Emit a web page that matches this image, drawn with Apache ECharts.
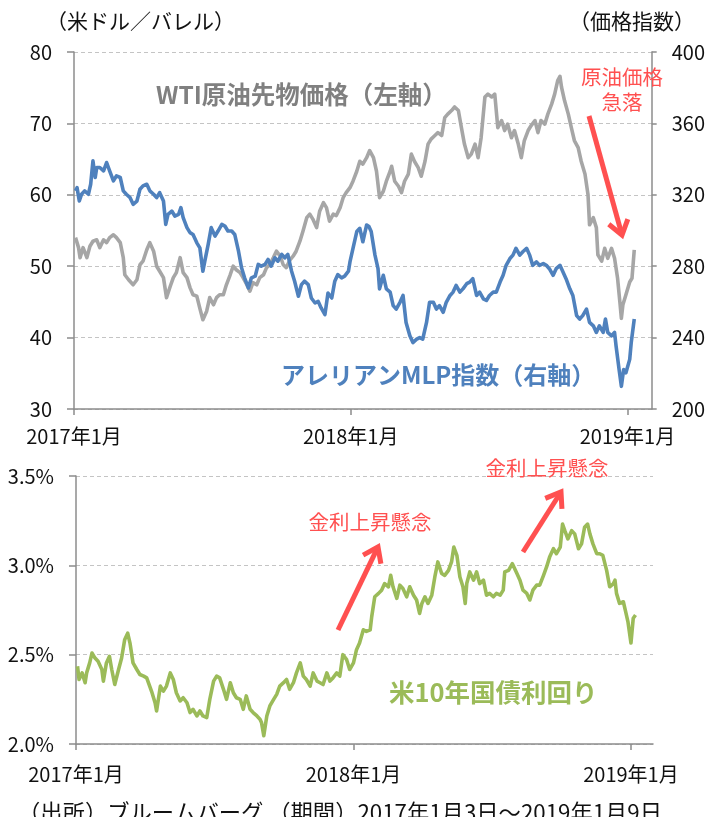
<!DOCTYPE html>
<html>
<head>
<meta charset="utf-8">
<script src="https://cdn.jsdelivr.net/npm/echarts@6/dist/echarts.min.js"></script>
<style>
html,body{margin:0;padding:0;background:#fff;}
#main{width:708px;height:817px;}
</style>
</head>
<body>
<div id="main"></div>
<script>
// x values are days counted from 2017-01-01
const tickDays = [0, 365, 730];
const tickLabels = ['2017年1月', '2018年1月', '2019年1月'];

// WTI crude futures, USD/bbl (left axis)
const wti = [
  [2,54.0],[6,52.6],[8,51.2],[12,52.6],[17,51.2],[21,52.8],[25,53.5],[30,53.7],[34,52.6],[39,53.7],
  [43,53.3],[47,54.0],[52,54.4],[56,54.0],[61,53.3],[65,51.2],[67,48.8],[72,48.1],[78,47.4],[83,48.1],
  [87,50.2],[91,50.7],[96,52.3],[100,53.3],[105,52.1],[109,50.0],[113,49.3],[118,48.4],[122,45.6],[127,47.2],
  [131,48.4],[135,49.1],[140,51.2],[144,49.1],[149,48.4],[153,47.0],[157,46.0],[162,45.8],[166,44.1],[170,42.5],
  [175,43.7],[179,45.6],[184,44.6],[188,45.6],[192,46.0],[197,46.0],[201,47.4],[206,48.8],[210,50.0],[214,49.5],
  [219,49.1],[223,48.4],[228,47.4],[232,46.5],[236,47.7],[241,47.4],[245,48.4],[250,48.8],[254,49.8],[258,50.2],
  [263,51.2],[267,52.1],[272,51.4],[276,50.2],[280,49.8],[285,50.9],[289,51.4],[293,52.1],[298,53.5],[302,54.9],
  [307,56.8],[311,57.3],[315,56.6],[320,55.4],[324,57.7],[329,58.9],[333,58.2],[337,56.3],[342,57.3],[346,57.1],
  [351,58.2],[355,59.6],[359,60.3],[364,61.0],[368,61.9],[373,63.3],[377,64.7],[381,64.3],[386,65.2],[390,66.2],
  [395,65.2],[399,63.3],[403,59.6],[408,60.5],[412,61.9],[417,63.3],[419,64.0],[423,61.9],[428,61.2],[432,60.3],
  [436,61.9],[441,62.9],[445,65.7],[449,64.7],[454,63.8],[458,62.6],[463,64.7],[467,67.1],[471,67.8],[476,68.3],
  [480,68.7],[485,68.3],[489,70.8],[493,71.3],[498,71.8],[502,72.3],[507,71.8],[511,69.4],[515,67.1],[520,65.2],
  [524,65.7],[529,67.1],[533,65.2],[537,68.0],[542,73.7],[546,74.1],[551,73.7],[555,74.1],[559,69.4],[564,70.4],
  [568,69.0],[572,69.9],[577,68.0],[581,69.0],[586,67.1],[590,65.2],[594,67.6],[599,69.0],[603,69.7],[608,70.4],
  [612,68.7],[616,70.4],[621,69.9],[625,71.3],[630,72.7],[634,74.1],[638,76.0],[641,76.6],[643,75.1],[647,73.2],
  [652,71.3],[656,69.4],[660,67.6],[665,66.6],[669,64.7],[674,62.9],[678,60.0],[680,55.8],[685,56.8],[689,55.4],
  [691,51.6],[696,50.7],[700,52.5],[704,51.1],[709,52.5],[713,51.1],[717,48.3],[720,45.0],[722,42.7],[724,44.6],
  [728,46.0],[733,47.8],[736,48.3],[739,52.3]
];

// Alerian MLP index (right axis)
const mlp = [
  [2,322.2],[4,324.0],[7,316.5],[10,320.3],[14,322.2],[19,320.3],[22,325.9],[25,339.0],[28,329.7],[30,335.3],
  [34,335.3],[39,333.4],[43,338.1],[47,333.4],[52,327.8],[56,330.6],[61,329.7],[65,322.2],[69,320.3],[74,318.4],
  [78,314.7],[83,316.5],[87,323.1],[91,325.0],[96,325.9],[100,322.2],[105,320.3],[109,318.4],[113,321.2],[118,316.5],
  [121,303.4],[124,309.1],[129,310.9],[133,308.1],[138,309.1],[141,312.8],[144,307.2],[149,301.6],[153,298.8],[157,297.8],
  [162,293.1],[166,290.3],[170,277.2],[173,283.8],[177,292.2],[181,301.6],[186,296.9],[190,299.7],[195,303.4],[199,302.5],
  [203,299.7],[208,299.7],[212,297.8],[217,288.4],[221,279.1],[225,273.5],[230,267.8],[234,273.5],[239,274.4],[243,281.0],
  [247,280.0],[252,281.0],[256,283.8],[260,280.0],[265,284.7],[269,282.8],[274,286.6],[278,284.7],[282,286.6],[287,277.2],
  [291,271.6],[296,263.2],[300,269.7],[304,271.6],[309,269.7],[313,262.2],[318,259.4],[322,260.3],[326,256.6],[331,252.9],
  [335,265.0],[340,262.2],[344,271.6],[348,275.3],[353,273.5],[357,274.4],[362,277.2],[364,282.4],[368,290.0],[373,299.4],
  [377,301.2],[381,293.7],[386,303.1],[389,302.2],[392,299.4],[397,286.2],[401,278.6],[403,267.3],[408,274.9],[412,267.3],
  [417,265.5],[421,257.9],[425,256.0],[430,259.8],[434,263.6],[438,248.5],[443,241.0],[447,237.2],[452,239.1],[456,240.0],
  [460,239.1],[465,248.5],[469,259.8],[474,259.8],[478,256.0],[482,257.9],[487,254.2],[491,259.8],[496,263.6],[500,265.5],
  [504,269.2],[509,265.5],[513,267.3],[518,270.2],[522,271.1],[526,273.0],[531,263.6],[535,265.5],[540,261.7],[544,260.8],
  [548,263.6],[553,265.5],[557,265.5],[562,271.1],[566,274.9],[570,280.5],[575,284.3],[579,286.2],[583,290.0],[588,286.2],
  [592,288.1],[597,290.0],[601,286.2],[605,280.5],[610,282.4],[614,280.5],[619,281.5],[623,280.5],[627,278.6],[632,274.9],
  [636,278.6],[641,280.5],[645,276.8],[649,273.0],[654,267.3],[658,263.6],[663,252.3],[667,250.4],[671,252.3],[676,256.0],
  [680,248.5],[685,246.6],[689,242.9],[693,246.6],[698,242.9],[701,250.4],[704,242.9],[709,241.0],[713,242.9],[715,235.3],
  [719,222.1],[722,212.7],[725,222.1],[728,220.3],[733,227.8],[735,237.2],[739,250.4]
];

// US 10-year treasury yield, %
const ust10y = [
  [2,2.435],[4,2.361],[8,2.398],[12,2.343],[14,2.398],[18,2.454],[21,2.509],[25,2.481],[29,2.463],[34,2.417],
  [36,2.352],[40,2.454],[44,2.491],[47,2.417],[51,2.333],[56,2.417],[60,2.481],[64,2.583],[68,2.620],[71,2.565],
  [75,2.454],[80,2.417],[84,2.389],[89,2.380],[93,2.370],[95,2.380],[100,2.287],[104,2.231],[106,2.185],[111,2.324],
  [115,2.296],[119,2.324],[124,2.398],[128,2.361],[132,2.287],[137,2.241],[141,2.259],[146,2.231],[150,2.176],[154,2.194],
  [159,2.157],[163,2.185],[167,2.157],[172,2.148],[176,2.250],[181,2.352],[185,2.380],[189,2.370],[194,2.306],[198,2.250],
  [203,2.343],[207,2.287],[211,2.259],[216,2.250],[220,2.194],[224,2.269],[229,2.194],[233,2.176],[238,2.157],[242,2.139],
  [244,2.120],[247,2.046],[251,2.157],[255,2.213],[260,2.250],[264,2.278],[268,2.324],[273,2.343],[277,2.361],[281,2.306],
  [286,2.343],[290,2.398],[295,2.454],[299,2.380],[303,2.361],[308,2.324],[312,2.398],[317,2.352],[321,2.343],[325,2.333],
  [330,2.398],[334,2.352],[338,2.370],[343,2.398],[347,2.380],[351,2.500],[356,2.472],[360,2.417],[365,2.454],[369,2.528],
  [373,2.565],[378,2.639],[382,2.630],[387,2.639],[389,2.713],[393,2.824],[398,2.843],[402,2.861],[406,2.898],[411,2.880],
  [414,2.944],[417,2.880],[422,2.815],[426,2.889],[430,2.870],[435,2.824],[439,2.880],[444,2.833],[448,2.806],[452,2.731],
  [455,2.787],[459,2.824],[463,2.787],[468,2.833],[472,2.935],[476,3.019],[481,2.954],[485,2.944],[490,2.972],[494,3.019],
  [497,3.102],[501,3.056],[505,2.935],[509,2.880],[512,2.787],[514,2.898],[518,2.963],[523,2.917],[527,2.963],[531,2.898],
  [536,2.917],[540,2.833],[544,2.843],[549,2.824],[553,2.843],[558,2.833],[562,2.861],[564,2.963],[569,2.972],[574,3.009],
  [580,2.954],[584,2.917],[588,2.861],[593,2.843],[597,2.806],[601,2.861],[606,2.889],[610,2.889],[615,2.944],[619,2.991],
  [623,3.046],[628,3.093],[632,3.065],[637,3.102],[640,3.231],[643,3.194],[647,3.148],[652,3.194],[656,3.176],[661,3.093],
  [665,3.120],[669,3.213],[673,3.231],[676,3.176],[680,3.120],[685,3.065],[689,3.065],[693,3.056],[698,2.972],[702,2.880],
  [707,2.898],[709,2.917],[711,2.843],[715,2.787],[720,2.796],[723,2.741],[726,2.685],[730,2.565],[733,2.704],[736,2.722]
];

const FONT = '"Noto Sans CJK JP", "Noto Sans", sans-serif';
const AXIS = '#8c8c8c';
const RED = '#FF5050';

function xAxisFor(grid, max, margin) {
  return {
    type: 'value', gridIndex: grid, min: 0, max: max,
    axisLine: {show: true, lineStyle: {color: AXIS, width: 1.5}},
    axisTick: {show: true, length: 6, customValues: tickDays, lineStyle: {color: AXIS, width: 1.5}},
    axisLabel: {
      customValues: tickDays, margin: margin, fontSize: 20, color: '#111', fontFamily: FONT,
      formatter: v => tickLabels[tickDays.indexOf(v)] || ''
    },
    splitLine: {show: false}
  };
}

function yAxisFor(grid, pos, min, max, step, fmt, split, margin, tick) {
  return {
    type: 'value', gridIndex: grid, position: pos, min: min, max: max, interval: step,
    axisLine: {show: true, lineStyle: {color: AXIS, width: 1.5}},
    axisTick: {show: true, length: tick, lineStyle: {color: AXIS, width: 1.5}},
    axisLabel: {margin: margin, fontSize: 20, color: '#111', fontFamily: FONT, formatter: fmt},
    splitLine: {show: split, lineStyle: {color: '#c4c4c4', type: [4, 3], width: 1}}
  };
}

function txt(text, x, y, size, color, opts) {
  opts = opts || {};
  return {
    type: 'text', x: x, y: y, silent: true, z: 100,
    style: {
      text: text, fontSize: size, fontFamily: FONT, fontWeight: opts.bold ? 'bold' : 'normal',
      fill: color, align: opts.align || 'left', textAlign: opts.align || 'left',
      verticalAlign: 'middle', textVerticalAlign: 'middle', lineHeight: opts.lh || size
    }
  };
}

function arrow(x1, y1, x2, y2) {
  const a = Math.atan2(y2 - y1, x2 - x1);
  const L = 17, w = 0.62;
  const p1 = [x2 - L * Math.cos(a - w), y2 - L * Math.sin(a - w)];
  const p2 = [x2 - L * Math.cos(a + w), y2 - L * Math.sin(a + w)];
  return [
    {type: 'line', silent: true, z: 100,
     shape: {x1: x1, y1: y1, x2: x2 - 3 * Math.cos(a), y2: y2 - 3 * Math.sin(a)},
     style: {stroke: RED, lineWidth: 5}},
    {type: 'polyline', silent: true, z: 100,
     shape: {points: [p1, [x2, y2], p2]},
     style: {stroke: RED, lineWidth: 5, fill: null, lineJoin: 'miter'}}
  ];
}

const chart = echarts.init(document.getElementById('main'), null, {renderer: 'canvas'});

const option = {
  animation: false,
  backgroundColor: '#fff',
  textStyle: {fontFamily: FONT},
  grid: [
    {left: 74, right: 56, top: 52, bottom: 408},
    {left: 76, right: 55, top: 476, bottom: 73}
  ],
  xAxis: [xAxisFor(0, 762, 17), xAxisFor(1, 759, 20)],
  yAxis: [
    yAxisFor(0, 'left', 30, 80, 10, v => v, true, 22, 7),
    yAxisFor(0, 'right', 200, 400, 40, v => v, false, 20, 5),
    yAxisFor(1, 'left', 2, 3.5, 0.5, v => v.toFixed(1) + '%', true, 22, 7)
  ],
  series: [
    {name: 'WTI', type: 'line', xAxisIndex: 0, yAxisIndex: 0, data: wti, showSymbol: false,
     lineStyle: {color: '#A6A6A6', width: 3.6, join: 'round'}, itemStyle: {color: '#A6A6A6'}},
    {name: 'MLP', type: 'line', xAxisIndex: 0, yAxisIndex: 1, data: mlp, showSymbol: false,
     lineStyle: {color: '#4F81BD', width: 3.6, join: 'round'}, itemStyle: {color: '#4F81BD'}},
    {name: 'UST10Y', type: 'line', xAxisIndex: 1, yAxisIndex: 2, data: ust10y, showSymbol: false,
     lineStyle: {color: '#9BBB59', width: 3.6, join: 'round'}, itemStyle: {color: '#9BBB59'}}
  ],
  graphic: [
    txt('（米ドル／バレル）', 46, 21, 21, '#111'),
    txt('（価格指数）', 569, 21, 21, '#111'),
    txt('WTI原油先物価格（左軸）', 156, 95, 24.5, '#808080', {bold: true}),
    txt('アレリアンMLP指数（右軸）', 281, 375, 24, '#4F81BD', {bold: true}),
    txt('原油価格\n急落', 622, 90, 20.5, RED, {align: 'center', lh: 25}),
    txt('金利上昇懸念', 370, 522, 20.5, RED, {align: 'center'}),
    txt('金利上昇懸念', 547, 468, 20.5, RED, {align: 'center'}),
    txt('米10年国債利回り', 389, 692, 25.5, '#9BBB59', {bold: true}),
    txt('（出所）ブルームバーグ （期間）2017年1月3日～2019年1月9日', 18, 813, 22.3, '#111')
  ].concat(arrow(589, 116, 622, 235), arrow(338, 630, 378, 547), arrow(523, 552, 561, 492))
};

chart.setOption(option);
</script>
</body>
</html>
